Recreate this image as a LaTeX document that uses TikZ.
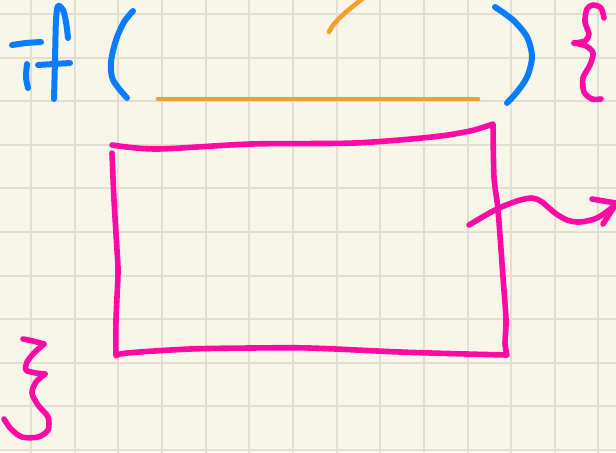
\documentclass[tikz,border=0pt]{standalone}
\definecolor{paper}{HTML}{F8F5E9}
\definecolor{gridgray}{HTML}{E2DFD2}
\definecolor{penblue}{HTML}{0A7CFF}
\definecolor{penpink}{HTML}{FF0AA5}
\definecolor{penorange}{HTML}{F5A02A}
\begin{document}
\begin{tikzpicture}[x=0.5pt, y=-0.5pt, line cap=round, line join=round,
    gridline/.style={gridgray, line width=1pt},
    bluepen/.style={penblue, line width=3pt},
    pinkpen/.style={penpink, line width=2.8pt},
    orangepen/.style={penorange, line width=2.3pt}]
	% 1. 纸面与方格 (最底层)
	\useasboundingbox (0,0) rectangle (616,452);
	\clip (0,0) rectangle (616,452);
	\fill[paper] (0,0) rectangle (616,452);
	\foreach \gx in {0,...,13}
		\draw[gridline] ({31+43.65*\gx},0) -- ({31+43.65*\gx},452);
	\foreach \gy in {0,...,10}
		\draw[gridline] (0,{14+43.6*\gy}) -- (616,{14+43.6*\gy});
	
	% 2. 蓝色 if ( )
	\draw[bluepen] plot[smooth] coordinates {(12,45) (26,43) (41,42)};
	\draw[bluepen] plot[smooth] coordinates {(27,64) (26,77) (28,88)};
	\draw[bluepen] plot[smooth] coordinates {(54,99) (55,60) (56,20) (58,6) (63,10) (66,22) (68,38)};
	\draw[bluepen] (38,65) -- (70,63);
	\draw[bluepen] plot[smooth] coordinates {(133,11) (124,22) (116,40) (111,62) (113,80) (127,98)};
	\draw[bluepen] plot[smooth] coordinates {(495,7) (513,20) (527,37) (532,57) (527,77) (517,92) (507,103)};
	
	% 3. 橙色条件
	\draw[orangepen] (158,99) -- (478,99);
	\draw[orangepen] plot[smooth] coordinates {(329,32) (334,24) (346,12) (362,-1) (368,-6)};
	
	% 4. 粉色花括号
	\draw[pinkpen] plot[smooth] coordinates {(604,18) (601,8) (593,5) (587,9) (585,22) (589,34) (585,41) (574,43)};
	\draw[pinkpen] plot[smooth] coordinates {(574,43) (586,46) (593,53) (590,65) (583,78) (584,92) (592,99) (601,99)};
	\draw[pinkpen] plot[smooth] coordinates {(23,339) (33,341) (44,344)};
	\draw[pinkpen] plot[smooth, tension=0.5] coordinates {(44,344) (34,353) (27,362) (26,370) (36,373) (45,374)};
	\draw[pinkpen] plot[smooth] coordinates {(45,374) (36,382) (32,393) (38,405) (48,417) (48,430) (38,437) (22,437) (11,429) (4,419)};
	
	% 5. 粉色方框
	\draw[pinkpen] plot[smooth] coordinates {(112,153) (114,200) (117,250) (118,273) (116,320) (116,356)}
		-- plot[smooth] coordinates {(116,356) (127,353) (190,349) (250,348) (310,348) (400,352) (467,354) (507,355)}
		-- plot[smooth] coordinates {(507,355) (505,343) (506,320) (503,277) (498,210) (494,177) (493,124)}
		-- plot[smooth] coordinates {(493,124) (470,131) (432,137) (354,143) (251,144) (157,149) (112,145)};
	
	% 6. 波浪箭头
	\draw[pinkpen] plot[smooth] coordinates {(469,225) (495,210) (517,201) (532,198) (542,202) (555,213) (567,220) (580,222) (597,218) (613,207) (618,203)};
	\draw[pinkpen] (592,199) -- (616,203);
	\draw[pinkpen] (603,224) -- (614,207);
\end{tikzpicture}
\end{document}
